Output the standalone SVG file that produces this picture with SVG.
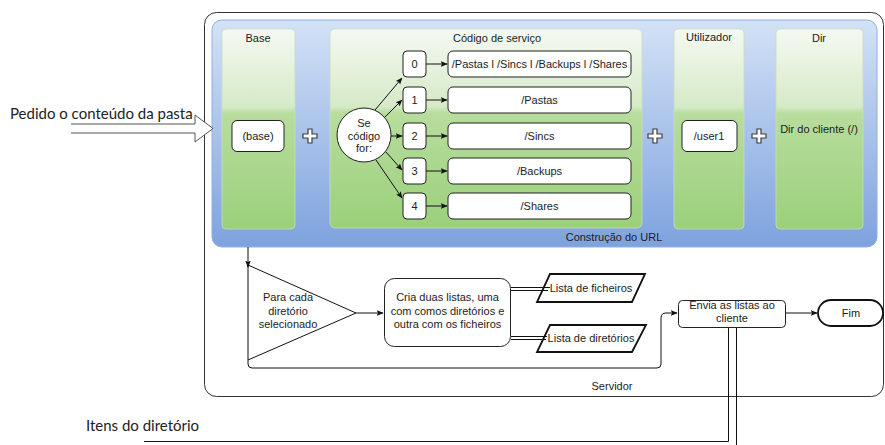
<svg xmlns="http://www.w3.org/2000/svg" width="885" height="445" viewBox="0 0 885 445">
  <defs>
    <linearGradient id="blueFill" x1="0" y1="0" x2="0" y2="1">
      <stop offset="0" stop-color="#d3e2f6"/>
      <stop offset="1" stop-color="#7ea2de"/>
    </linearGradient>
    <linearGradient id="greenFill" x1="0" y1="0" x2="0" y2="1">
      <stop offset="0" stop-color="#f5f9f2"/>
      <stop offset="0.39" stop-color="#d6eac7"/>
      <stop offset="0.42" stop-color="#b8dd9e"/>
      <stop offset="1" stop-color="#9bd07a"/>
    </linearGradient>
    <marker id="arrow" viewBox="0 0 10 10" refX="9" refY="5" markerWidth="7" markerHeight="7" orient="auto" markerUnits="userSpaceOnUse">
      <path d="M0,1 L10,5 L0,9 L2,5 Z" fill="#111"/>
    </marker>
    <path id="plus" d="M-2,-7 H2 V-2 H7 V2 H2 V7 H-2 V2 H-7 V-2 H-2 Z" fill="#ffffff" stroke="#3c3c3c" stroke-width="1.2"/>
  </defs>
  <style>
    text { font-family: "Liberation Sans", Arial, sans-serif; font-size: 11px; fill: #1c1c1c; }
    .big { font-family: Lato, "Open Sans", sans-serif; font-size: 15px; fill: #222; }
    .mid { text-anchor: middle; }
    .col { fill: url(#greenFill); stroke: #c9dcc0; stroke-width: 0.8; }
    .box { fill: #ffffff; stroke: #222; stroke-width: 1; }
    .line { fill: none; stroke: #111; stroke-width: 1; }
    .arr { fill: none; stroke: #111; stroke-width: 1; marker-end: url(#arrow); }
    .data { fill: #ffffff; stroke: #111; stroke-width: 1.8; }
  </style>

  <rect width="885" height="445" fill="#ffffff"/>

  <!-- server container -->
  <g id="servidor">
    <rect x="204.5" y="12.5" width="679" height="384" rx="12" fill="#ffffff" stroke="#333" stroke-width="1"/>
    <text x="612" y="390" class="mid">Servidor</text>
  </g>

  <!-- URL construction panel -->
  <g id="construcao-url">
    <rect x="212" y="20" width="665" height="227" rx="10" fill="url(#blueFill)" stroke="#8fb0e2" stroke-width="1"/>
    <text x="614" y="241" class="mid">Construção do URL</text>
  </g>

  <g id="col-base">
    <rect x="222" y="29" width="73" height="200" rx="4" class="col"/>
    <text x="258" y="42" class="mid">Base</text>
  </g>
  <g id="base">
    <rect x="232" y="120.5" width="52" height="31" rx="5" class="box"/>
    <text x="258" y="140" class="mid">(base)</text>
  </g>

  <g id="col-codigo">
    <rect x="330" y="29" width="312" height="199" rx="5" class="col"/>
    <text x="497" y="42" class="mid">Código de serviço</text>
  </g>
  <g id="se-codigo">
    <circle cx="364" cy="135" r="27" class="box"/>
    <text x="364" y="127" class="mid">Se</text>
    <text x="364" y="139.5" class="mid">código</text>
    <text x="364" y="152" class="mid">for:</text>
  </g>

  <g id="codigo-0">
    <rect x="403" y="51" width="23" height="26" rx="4" class="box"/>
    <text x="414.5" y="68" class="mid">0</text>
  </g>
  <g id="codigo-1">
    <rect x="403" y="87" width="23" height="26" rx="4" class="box"/>
    <text x="414.5" y="104" class="mid">1</text>
  </g>
  <g id="codigo-2">
    <rect x="403" y="123" width="23" height="26" rx="4" class="box"/>
    <text x="414.5" y="140" class="mid">2</text>
  </g>
  <g id="codigo-3">
    <rect x="403" y="158" width="23" height="26" rx="4" class="box"/>
    <text x="414.5" y="175" class="mid">3</text>
  </g>
  <g id="codigo-4">
    <rect x="403" y="193" width="23" height="26" rx="4" class="box"/>
    <text x="414.5" y="210" class="mid">4</text>
  </g>

  <g id="caminho-todos">
    <rect x="448" y="51" width="183" height="26" rx="5" class="box"/>
    <text x="539.5" y="68" class="mid">/Pastas l /Sincs l /Backups l /Shares</text>
  </g>
  <g id="caminho-pastas">
    <rect x="448" y="87" width="183" height="26" rx="5" class="box"/>
    <text x="539.5" y="104" class="mid">/Pastas</text>
  </g>
  <g id="caminho-sincs">
    <rect x="448" y="123" width="183" height="26" rx="5" class="box"/>
    <text x="539.5" y="140" class="mid">/Sincs</text>
  </g>
  <g id="caminho-backups">
    <rect x="448" y="158" width="183" height="26" rx="5" class="box"/>
    <text x="539.5" y="175" class="mid">/Backups</text>
  </g>
  <g id="caminho-shares">
    <rect x="448" y="193" width="183" height="26" rx="5" class="box"/>
    <text x="539.5" y="210" class="mid">/Shares</text>
  </g>

  <g id="col-utilizador">
    <rect x="674" y="29" width="70" height="200" rx="4" class="col"/>
    <text x="709" y="41" class="mid">Utilizador</text>
  </g>
  <g id="utilizador">
    <rect x="682" y="120.5" width="55" height="31" rx="5" class="box"/>
    <text x="709" y="140" class="mid">/user1</text>
  </g>

  <g id="col-dir">
    <rect x="776" y="29" width="87" height="200" rx="4" class="col"/>
    <text x="819" y="42" class="mid">Dir</text>
    <text x="819" y="133" class="mid">Dir do cliente (/)</text>
  </g>

  <!-- concatenation signs -->
  <g id="somas">
    <use href="#plus" x="310" y="136"/>
    <use href="#plus" x="655" y="136"/>
    <use href="#plus" x="759" y="136"/>
  </g>

  <!-- external request -->
  <g id="pedido">
    <text x="10" y="119" class="big">Pedido o conteúdo da pasta</text>
  </g>

  <!-- lower flow -->
  <g id="para-cada">
    <path d="M248,265 L356,313 L248,360" class="line"/>
    <text x="288" y="301" class="mid">Para cada</text>
    <text x="288" y="315" class="mid">diretório</text>
    <text x="288" y="328" class="mid">selecionado</text>
  </g>
  <g id="cria-listas">
    <rect x="384.5" y="278.5" width="126" height="68" rx="10" class="box"/>
    <text x="447.5" y="301" class="mid">Cria duas listas, uma</text>
    <text x="447.5" y="315" class="mid">com comos diretórios e</text>
    <text x="447.5" y="328" class="mid">outra com os ficheiros</text>
  </g>
  <g id="lista-ficheiros">
    <path d="M550,274 H645 L632,302 H537 Z" class="data"/>
    <text x="591" y="292" class="mid">Lista de ficheiros</text>
  </g>
  <g id="lista-diretorios">
    <path d="M550,325 H646 L632,352 H537 Z" class="data"/>
    <text x="591" y="342" class="mid">Lista de diretórios</text>
  </g>
  <g id="envia">
    <rect x="678.5" y="300.5" width="107" height="27" rx="4" class="box"/>
    <text x="732" y="309" class="mid">Envia as listas ao</text>
    <text x="732" y="322" class="mid">cliente</text>
  </g>
  <g id="fim">
    <rect x="818" y="300" width="65" height="26" rx="13" class="data"/>
    <text x="851" y="317" class="mid">Fim</text>
  </g>

  <g id="itens">
    <text x="86" y="431" class="big">Itens do diretório</text>
  </g>

  <!-- connectors -->
  <g id="connectors">
    <!-- hollow input arrow -->
    <path d="M71,124 H195 V115 L213,128.5 L195,142 V133 H71" fill="#ffffff" stroke="#555" stroke-width="1"/>

    <!-- code selection -->
    <line x1="375" y1="110" x2="402" y2="78" class="arr"/>
    <line x1="385" y1="117" x2="402" y2="100" class="arr"/>
    <line x1="391" y1="136" x2="402" y2="136" class="arr"/>
    <line x1="386" y1="152" x2="402" y2="170" class="arr"/>
    <line x1="376" y1="160" x2="402" y2="198" class="arr"/>

    <line x1="426" y1="64" x2="447" y2="64" class="arr"/>
    <line x1="426" y1="100" x2="447" y2="100" class="arr"/>
    <line x1="426" y1="136" x2="447" y2="136" class="arr"/>
    <line x1="426" y1="171" x2="447" y2="171" class="arr"/>
    <line x1="426" y1="206" x2="447" y2="206" class="arr"/>

    <!-- URL panel to loop -->
    <line x1="248" y1="247" x2="248" y2="267" class="arr"/>
    <path d="M248,265 V364 Q248,368 252,368 H657 Q661,368 661,364 V318 Q661,313 666,313 H677" class="arr"/>

    <!-- loop to list creation -->
    <line x1="356" y1="313" x2="383" y2="313" class="arr"/>

    <!-- double links to the lists -->
    <path d="M511,287.5 H550 M511,290.5 H548" class="line"/>
    <path d="M511,336.5 H547 M511,339.5 H546" class="line"/>

    <!-- send to end -->
    <line x1="786" y1="313" x2="817" y2="313" class="arr"/>

    <!-- directory items channel -->
    <path d="M144,441.5 H728.5 V328" class="line"/>
    <path d="M736.5,328 V445" class="line"/>
  </g>
</svg>
